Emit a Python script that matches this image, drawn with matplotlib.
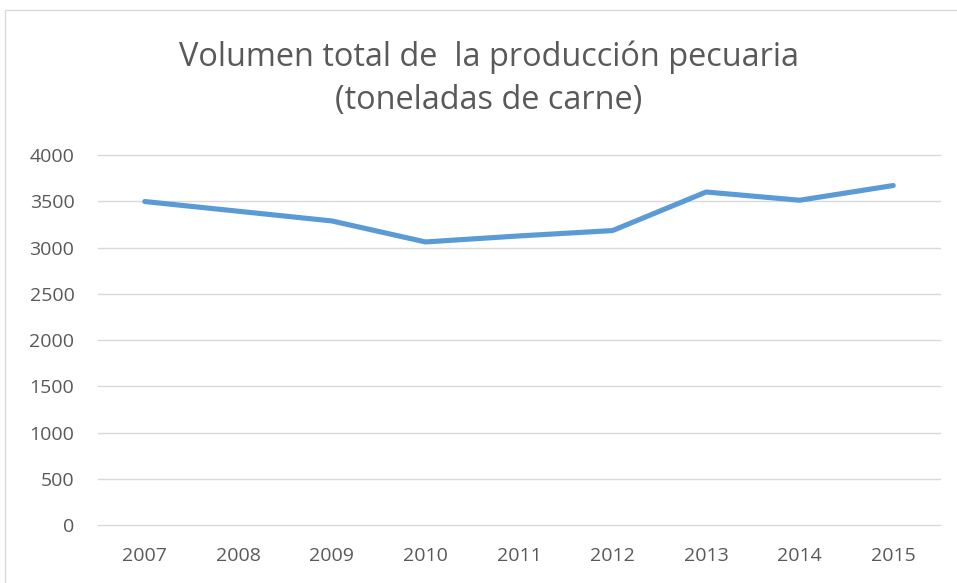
import matplotlib.pyplot as plt
from matplotlib.patches import Rectangle

years = ["2007", "2008", "2009", "2010", "2011", "2012", "2013", "2014", "2015"]
toneladas = [3497, 3392, 3287, 3060, 3125, 3183, 3600, 3511, 3670]
yticks = [0, 500, 1000, 1500, 2000, 2500, 3000, 3500, 4000]

plt.rcParams['font.family'] = ['Open Sans', 'DejaVu Sans']

fig = plt.figure(figsize=(9.57, 5.83), dpi=100)
# light chart border like the spreadsheet frame
fig.patches.append(Rectangle((5 / 957, -0.1), 1.1, 1 - 10 / 583 + 0.1,
                             transform=fig.transFigure, fill=False,
                             edgecolor="#D9D9D9", linewidth=1))

ax = fig.add_axes([98 / 957, 1 - 525 / 583, (940 - 98) / 957, (525 - 155) / 583])
x = range(len(years))
ax.plot(x, toneladas, color="#5B9BD5", linewidth=3.7, solid_capstyle="round")

ax.set_xlim(-0.5, len(years) - 0.5)
ax.set_ylim(0, 4000)
ax.set_yticks(yticks)
ax.set_xticks(list(x))
ax.set_xticklabels(years)
ax.grid(axis="y", color="#D9D9D9", linewidth=1)
for gl in ax.get_ygridlines():
    gl.set_clip_on(False)
ax.set_axisbelow(True)
for s in ax.spines.values():
    s.set_visible(False)
ax.tick_params(length=0, labelsize=14, colors="#595959")
ax.tick_params(axis="x", pad=16)
ax.tick_params(axis="y", pad=17)

fig.text(489 / 957, 1 - 79 / 583, "Volumen total de  la producción pecuaria\n(toneladas de carne)",
         ha="center", va="center", fontsize=23.4, color="#595959", linespacing=1.4)

fig.savefig("out.png", dpi=100)
